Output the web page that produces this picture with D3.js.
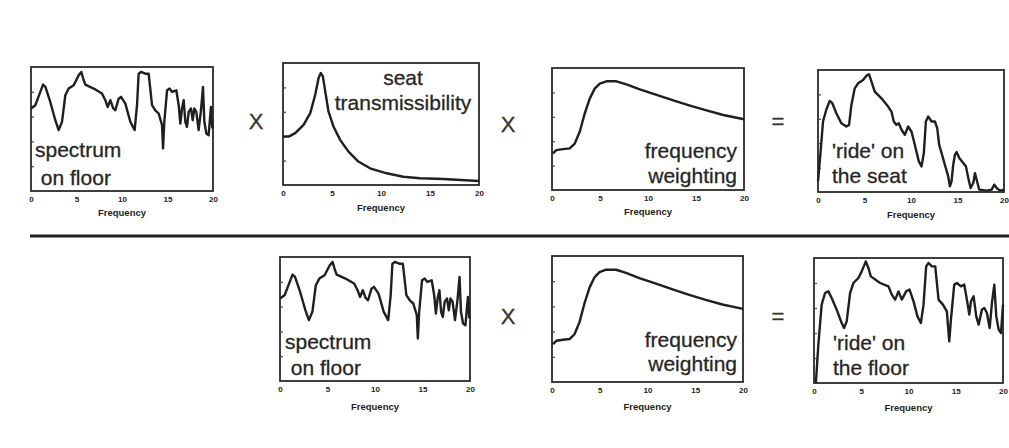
<!DOCTYPE html>
<html>
<head>
<meta charset="utf-8">
<script src="https://cdn.jsdelivr.net/npm/d3@7"></script>
<style>
  html, body { margin: 0; padding: 0; background: #fff; }
  svg { display: block; }
  .lbl { font-family: "Liberation Sans", Arial, sans-serif; font-size: 21px; fill: #262626; stroke: #262626; stroke-width: 0.3px; }
  .op  { font-family: "Liberation Sans", Arial, sans-serif; font-size: 22px; fill: #333; stroke: #333; stroke-width: 0.3px; }
  .tick text { font-family: "Liberation Sans", Arial, sans-serif; font-size: 8px; font-weight: bold; fill: #222; }
  .xt { font-family: "Liberation Sans", Arial, sans-serif; font-size: 9.5px; font-weight: bold; fill: #222; }
</style>
</head>
<body>
<svg id="chart" width="1009" height="448"></svg>
<script>
// Frequency axis ticks shared by every panel
const freqTicks = [0, 5, 10, 15, 20];

// Vibration spectrum measured on the floor (relative amplitude)
const floorFreq = [0.00,0.48,1.32,1.58,2.12,2.67,3.04,3.41,3.77,4.14,4.69,5.24,5.53,5.79,5.97,6.89,7.80,8.17,8.42,8.72,9.01,9.27,9.63,9.89,10.37,10.92,11.39,11.65,11.83,12.09,12.56,12.93,13.30,13.66,14.03,14.40,14.51,14.65,14.95,15.24,15.49,15.97,16.23,16.41,16.59,16.78,16.96,17.14,17.33,17.58,17.77,17.95,18.17,18.42,18.68,18.90,19.05,19.27,19.52,19.78,19.93];
const floorAmp  = [66.5,69.2,85.8,83.9,71.8,57.1,49.1,55.8,77.2,82.6,85.3,93.3,96.0,89.3,85.8,82.6,78.6,73.2,67.8,73.2,67.0,65.1,74.5,75.9,70.5,55.8,49.1,69.2,94.6,96.0,94.6,94.6,69.2,65.1,62.5,53.1,34.3,55.8,81.2,82.6,79.9,81.2,69.2,54.4,66.5,73.2,55.8,51.7,63.8,66.5,57.1,66.5,63.8,49.1,65.1,83.9,55.8,46.4,45.0,67.8,50.4];

// Seat transmissibility
const seatFreq = [0.00,0.58,1.25,2.10,2.78,3.29,3.63,3.86,4.07,4.31,4.64,5.15,5.83,6.68,7.69,8.88,10.58,12.27,13.97,16.34,20.00];
const seatAmp  = [39.7,39.7,42.5,49.3,58.9,74.0,87.7,91.8,89.0,76.7,60.3,47.9,37.0,27.4,19.2,13.7,9.6,6.8,5.5,4.9,3.3];

// Frequency weighting
const weightFreq = [0.10,0.45,1.15,1.84,2.37,2.89,3.41,3.93,4.45,4.97,5.67,6.71,7.76,9.15,10.89,12.63,14.37,16.10,17.84,20.00];
const weightAmp  = [30.0,32.7,33.5,34.1,38.1,47.7,62.7,74.9,83.1,87.2,89.1,89.1,86.6,82.5,78.0,73.5,69.2,65.2,61.5,58.0];

// 'Ride' on the seat
const rideSeatFreq = [0.00,0.25,0.54,0.90,1.26,1.54,1.97,2.51,3.05,3.34,3.59,3.95,4.31,4.85,5.21,5.49,5.75,6.10,6.82,7.54,7.90,8.15,8.44,8.69,8.98,9.34,9.69,10.05,10.41,10.84,11.13,11.38,11.60,11.85,12.21,12.57,12.82,13.03,13.29,13.64,14.00,14.18,14.36,14.54,14.72,14.90,15.19,15.62,15.91,16.16,16.41,16.70,16.88,17.06,17.34,18.13,18.67,18.96,19.21,19.57,20.00];
const rideSeatAmp  = [8.7,30.5,57.8,67.6,74.7,72.8,64.6,56.4,53.7,55.0,71.4,85.0,89.1,91.8,95.4,96.5,90.5,82.3,76.8,70.0,65.9,57.8,55.0,56.4,51.0,46.9,53.7,49.6,38.7,25.1,21.0,31.9,57.8,61.9,57.8,57.8,52.3,38.7,31.9,22.3,12.8,4.6,8.7,22.3,30.5,32.7,27.8,23.7,21.0,11.4,3.3,7.4,15.5,10.1,1.9,1.1,1.9,6.0,3.3,1.1,1.9];

// 'Ride' on the floor
const rideFloorFreq = [0.20,0.46,0.81,1.17,1.52,1.87,2.40,2.93,3.18,3.46,3.82,4.17,4.70,5.05,5.48,5.76,6.01,7.00,7.88,8.23,8.59,8.94,9.29,9.75,10.11,10.53,10.95,11.31,11.59,11.87,12.12,12.47,12.83,13.18,13.64,14.06,14.31,14.49,14.84,15.12,15.55,15.90,16.18,16.43,16.61,16.89,17.17,17.42,17.77,18.02,18.30,18.59,18.83,19.08,19.29,19.54,19.79,20.00];
const rideFloorAmp  = [0.0,30.7,62.7,72.0,73.3,68.0,58.7,48.0,44.0,49.3,72.0,80.0,84.0,89.3,97.3,92.0,85.3,80.0,77.3,70.7,66.7,73.3,66.7,73.3,74.7,65.3,53.3,48.0,62.7,93.3,96.0,93.3,93.3,66.7,62.7,57.3,33.3,50.7,78.7,80.0,77.3,78.7,66.7,54.7,65.3,69.3,53.3,46.7,58.7,60.0,56.0,44.0,64.0,78.7,53.3,42.7,40.0,62.7];

// Panel frames and their captions
const panels = [
  { x0: 31,  x1: 213,  y0: 67,  y1: 191, fx: floorFreq,     fy: floorAmp,     lines: ["spectrum", " on floor"], anchor: "start",  tx: 4,   ty: [90, 118], fy2: 216 },
  { x0: 283, x1: 479,  y0: 63,  y1: 185, fx: seatFreq,      fy: seatAmp,      lines: ["seat", "transmissibility"], anchor: "middle", tx: 120, ty: [22, 47], fy2: 211 },
  { x0: 552, x1: 744,  y0: 68,  y1: 190, fx: weightFreq,    fy: weightAmp,    lines: ["frequency", "weighting"], anchor: "end", tx: 185, ty: [90, 115], fy2: 215 },
  { x0: 818, x1: 1004, y0: 70,  y1: 192, fx: rideSeatFreq,  fy: rideSeatAmp,  lines: ["'ride' on", "the seat"], anchor: "start", tx: 14, ty: [88, 113], fy2: 218 },
  { x0: 280, x1: 470,  y0: 257, y1: 381, fx: floorFreq,     fy: floorAmp,     lines: ["spectrum", " on floor"], anchor: "start", tx: 5, ty: [92, 118], fy2: 410 },
  { x0: 552, x1: 743,  y0: 256, y1: 382, fx: weightFreq,    fy: weightAmp,    lines: ["frequency", "weighting"], anchor: "end", tx: 185, ty: [91, 115], fy2: 410 },
  { x0: 814, x1: 1003, y0: 258, y1: 383, fx: rideFloorFreq, fy: rideFloorAmp, lines: ["'ride' on", "the floor"], anchor: "start", tx: 19, ty: [92, 117], fy2: 411 }
];

// Operators placed between panels
const operators = [
  { s: "X", x: 256, y: 129 },
  { s: "X", x: 508, y: 132 },
  { s: "=", x: 778, y: 129 },
  { s: "X", x: 508, y: 324 },
  { s: "=", x: 778, y: 324 }
];

const svg = d3.select("#chart");
const ink = "#1f1f1f";

panels.forEach(p => {
  const x = d3.scaleLinear().domain([0, 20]).range([p.x0, p.x1]);
  const y = d3.scaleLinear().domain([0, 100]).range([p.y1, p.y0]);
  const g = svg.append("g");

  // frame
  g.append("rect")
    .attr("x", p.x0).attr("y", p.y0)
    .attr("width", p.x1 - p.x0).attr("height", p.y1 - p.y0)
    .attr("fill", "none").attr("stroke", "#2a2a2a").attr("stroke-width", 1.8);

  // small inner ticks along the left edge
  g.append("g")
    .attr("transform", `translate(${p.x0},0)`)
    .call(d3.axisLeft(y).tickValues([20, 40, 60, 80]).tickSize(-3).tickFormat(""))
    .call(a => a.select(".domain").remove())
    .selectAll("line").attr("stroke", "#444").attr("stroke-width", 1.2);

  // frequency axis
  const ax = g.append("g")
    .attr("transform", `translate(0,${p.y1})`)
    .call(d3.axisBottom(x).tickValues(freqTicks).tickSize(0).tickPadding(5).tickFormat(d3.format("d")));
  ax.select(".domain").remove();

  g.append("text").attr("class", "xt")
    .attr("x", (p.x0 + p.x1) / 2).attr("y", p.fy2)
    .attr("text-anchor", "middle").text("Frequency");

  // curve
  const pts = p.fx.map((f, i) => [f, p.fy[i]]);
  g.append("path")
    .datum(pts)
    .attr("fill", "none").attr("stroke", ink).attr("stroke-width", 2.4)
    .attr("stroke-linejoin", "round")
    .attr("d", d3.line().x(d => x(d[0])).y(d => y(d[1])).curve(d3.curveLinear));

  // caption
  p.lines.forEach((t, i) => {
    g.append("text").attr("class", "lbl")
      .attr("x", p.x0 + p.tx).attr("y", p.y0 + p.ty[i])
      .attr("text-anchor", p.anchor)
      .attr("xml:space", "preserve")
      .text(t);
  });
});

// operators
svg.selectAll("text.op").data(operators).join("text")
  .attr("class", "op")
  .attr("x", d => d.x).attr("y", d => d.y)
  .attr("text-anchor", "middle")
  .text(d => d.s);

// separator between the two rows
svg.append("line")
  .attr("x1", 30).attr("x2", 1009).attr("y1", 236).attr("y2", 236)
  .attr("stroke", "#1e1e1e").attr("stroke-width", 2.8);
</script>
</body>
</html>
